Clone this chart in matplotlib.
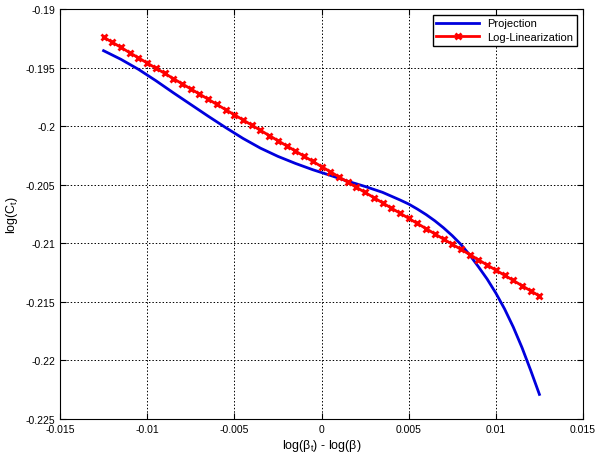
import numpy as np
import matplotlib
matplotlib.use("Agg")
import matplotlib.pyplot as plt

plt.rcParams['font.family'] = ['Liberation Sans', 'DejaVu Sans']
plt.rcParams['mathtext.fontset'] = 'custom'
plt.rcParams['mathtext.rm'] = 'Liberation Sans'
plt.rcParams['mathtext.it'] = 'Liberation Sans'

proj_x = [-0.0125, -0.0115, -0.0105, -0.0095, -0.0085, -0.0075, -0.0065, -0.0055,
          -0.0045, -0.0035, -0.0025, -0.0015, -0.0005, 0.0005, 0.0015, 0.0025,
          0.0035, 0.0045, 0.0050, 0.0055, 0.0060, 0.0065, 0.0070, 0.0075,
          0.0080, 0.0085, 0.0090, 0.0095, 0.0100, 0.0105, 0.0110, 0.0115,
          0.0120, 0.0125]
proj_y = [-0.19356, -0.19430, -0.19515, -0.19612, -0.19715, -0.19815, -0.19915, -0.20012,
          -0.20105, -0.20188, -0.20258, -0.20318, -0.20372, -0.20420, -0.20470, -0.20515,
          -0.20565, -0.20630, -0.20665, -0.20708, -0.20755, -0.20808, -0.20868, -0.20935,
          -0.21010, -0.21100, -0.21200, -0.21305, -0.21425, -0.21560, -0.21715, -0.21890,
          -0.22085, -0.22290]

loglin_x = [-0.0125, -0.0120, -0.0115, -0.0110, -0.0105, -0.0100, -0.0095, -0.0090,
            -0.0085, -0.0080, -0.0075, -0.0070, -0.0065, -0.0060, -0.0055, -0.0050,
            -0.0045, -0.0040, -0.0035, -0.0030, -0.0025, -0.0020, -0.0015, -0.0010,
            -0.0005, 0.0000, 0.0005, 0.0010, 0.0015, 0.0020, 0.0025, 0.0030,
            0.0035, 0.0040, 0.0045, 0.0050, 0.0055, 0.0060, 0.0065, 0.0070,
            0.0075, 0.0080, 0.0085, 0.0090, 0.0095, 0.0100, 0.0105, 0.0110,
            0.0115, 0.0120, 0.0125]
loglin_y = [-0.19240, -0.19284, -0.19328, -0.19373, -0.19417, -0.19461, -0.19505, -0.19549,
            -0.19594, -0.19638, -0.19682, -0.19726, -0.19770, -0.19815, -0.19859, -0.19903,
            -0.19947, -0.19991, -0.20036, -0.20080, -0.20124, -0.20168, -0.20212, -0.20257,
            -0.20301, -0.20345, -0.20389, -0.20433, -0.20478, -0.20522, -0.20566, -0.20610,
            -0.20654, -0.20699, -0.20743, -0.20787, -0.20831, -0.20875, -0.20920, -0.20964,
            -0.21008, -0.21052, -0.21096, -0.21141, -0.21185, -0.21229, -0.21273, -0.21317,
            -0.21362, -0.21406, -0.21450]

xticks = [-0.015, -0.01, -0.005, 0, 0.005, 0.01, 0.015]
xticklabels = ['-0.015', '-0.01', '-0.005', '0', '0.005', '0.01', '0.015']
yticks = [-0.225, -0.22, -0.215, -0.21, -0.205, -0.2, -0.195, -0.19]
yticklabels = ['-0.225', '-0.22', '-0.215', '-0.21', '-0.205', '-0.2', '-0.195', '-0.19']

fig = plt.figure(figsize=(5.96, 4.60), dpi=100)
ax = fig.add_axes([60/596, 40/460, 523/596, 410/460])

ax.plot(proj_x, proj_y, color='#0000dd', lw=2, label='Projection')
ax.plot(loglin_x, loglin_y, color='#ff0000', lw=2, marker='x', ms=5, mew=2,
        label='Log-Linearization')

ax.set_xlim(-0.015, 0.015)
ax.set_ylim(-0.225, -0.19)
ax.set_xticks(xticks)
ax.set_xticklabels(xticklabels)
ax.set_yticks(yticks)
ax.set_yticklabels(yticklabels)
ax.tick_params(direction='in', top=True, right=True, labelsize=7.5, length=4)
ax.grid(True, color='black', linestyle=(0, (1.5, 2)), linewidth=0.7)
for s in ax.spines.values():
    s.set_color('black')
    s.set_linewidth(0.8)

ax.set_xlabel(r'log($\beta_t$) - log($\beta$)', fontsize=9, labelpad=2)
ax.set_ylabel(r'log(C$_t$)', fontsize=9, labelpad=4)

leg = ax.legend(loc='upper right', fontsize=8, fancybox=False, framealpha=1,
                edgecolor='black', borderaxespad=0.5, handlelength=3.8,
                borderpad=0.35, labelspacing=0.3)
leg.get_frame().set_linewidth(1)

fig.savefig('out.png', dpi=100)
